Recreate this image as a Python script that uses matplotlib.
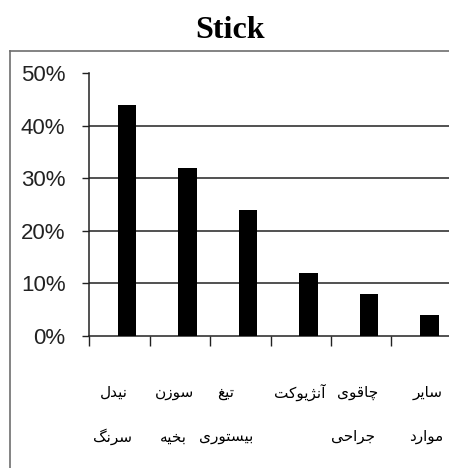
import numpy as np
import matplotlib
matplotlib.use("Agg")
import matplotlib.pyplot as plt
from matplotlib.lines import Line2D

# ── data ──
TITLE = "Stick"
LABELS = ["نیدل\nسرنگ", "سوزن\nبخیه", "تیغ\nبیستوری", "آنژیوکت", "چاقوی\nجراحی", "سایر\nموارد"]
VALUES = [44, 32, 24, 12, 8, 4]   # percent
YTICKS = [0, 10, 20, 30, 40, 50]

# ── minimal Persian shaping (matplotlib has no bidi / joining) ──
# letter: (isolated, final, initial, medial); two-form letters never join to the next one
FORMS = {
    "ا": (0xFE8D, 0xFE8E), "آ": (0xFE81, 0xFE82),
    "د": (0xFEA9, 0xFEAA), "ر": (0xFEAD, 0xFEAE), "ز": (0xFEAF, 0xFEB0),
    "ژ": (0xFB8A, 0xFB8B), "و": (0xFEED, 0xFEEE),
    "ب": (0xFE8F, 0xFE90, 0xFE91, 0xFE92), "ت": (0xFE95, 0xFE96, 0xFE97, 0xFE98),
    "ج": (0xFE9D, 0xFE9E, 0xFE9F, 0xFEA0), "ح": (0xFEA1, 0xFEA2, 0xFEA3, 0xFEA4),
    "خ": (0xFEA5, 0xFEA6, 0xFEA7, 0xFEA8), "س": (0xFEB1, 0xFEB2, 0xFEB3, 0xFEB4),
    "غ": (0xFECD, 0xFECE, 0xFECF, 0xFED0), "ق": (0xFED5, 0xFED6, 0xFED7, 0xFED8),
    "ل": (0xFEDD, 0xFEDE, 0xFEDF, 0xFEE0), "م": (0xFEE1, 0xFEE2, 0xFEE3, 0xFEE4),
    "ن": (0xFEE5, 0xFEE6, 0xFEE7, 0xFEE8), "ه": (0xFEE9, 0xFEEA, 0xFEEB, 0xFEEC),
    "ی": (0xFBFC, 0xFBFD, 0xFBFE, 0xFBFF), "ک": (0xFB8E, 0xFB8F, 0xFB90, 0xFB91),
    "گ": (0xFB92, 0xFB93, 0xFB94, 0xFB95), "چ": (0xFB7A, 0xFB7B, 0xFB7C, 0xFB7D),
}


def shape(s):
    out = []
    for i, ch in enumerate(s):
        f = FORMS.get(ch)
        if f is None:
            out.append(ch)
            continue
        prev = s[i - 1] if i > 0 else ""
        nxt = s[i + 1] if i < len(s) - 1 else ""
        jp = prev in FORMS and len(FORMS[prev]) == 4
        jn = len(f) == 4 and nxt in FORMS
        if jp and jn:
            k = 3
        elif jp:
            k = 1
        elif jn:
            k = 2
        else:
            k = 0
        out.append(chr(f[k]))
    return "".join(out[::-1])


W, H = 449, 468
fig = plt.figure(figsize=(W / 100, H / 100), dpi=100)

# outer box (chart area border, cropped on right / bottom)
fig.add_artist(Line2D([10 / W, 1.0], [1 - 51 / H] * 2, color="#6e6e6e", lw=1.2))
fig.add_artist(Line2D([10 / W] * 2, [1 - 51 / H, 0.0], color="#6e6e6e", lw=1.2))

fig.text(230 / W, 1 - 38 / H, TITLE, ha="center", va="baseline",
         family="Liberation Serif", weight="bold", fontsize=23)

ax = fig.add_axes([89 / W, 1 - 336 / H, (452 - 89) / W, (336 - 73) / H])
x = np.arange(len(VALUES))
ax.bar(x + 0.13, np.array(VALUES) / 100, width=0.31, color="black", zorder=3)

ax.set_xlim(-0.5, len(VALUES) - 0.5)
ax.set_ylim(0, 0.5)
ax.set_yticks(np.array(YTICKS) / 100)
ax.set_yticklabels([f"{v}%" for v in YTICKS], family="Liberation Sans",
                   fontsize=16, color="#222222")
ax.set_xticks(np.arange(len(VALUES)) - 0.5)
ax.set_xticklabels([])
ax.tick_params(axis="y", length=5, width=1, pad=12, color="#222222")
ax.tick_params(axis="x", length=7.5, width=1, color="#222222")
for v in YTICKS[1:-1]:
    ax.axhline(v / 100, color="#222222", lw=1.1, zorder=1)
for s in ["top", "right"]:
    ax.spines[s].set_visible(False)
for s in ["left", "bottom"]:
    ax.spines[s].set_color("#222222")
    ax.spines[s].set_linewidth(1.1)
ax.patch.set_alpha(0)

# category labels, two wrapped lines each (centres in pixels, as in the original)
line_x = [(114, 112), (175, 173), (226, 226), (300, None), (358, 353), (428, 426)]
line_y = [392, 437]
for lab, xs in zip(LABELS, line_x):
    for ln, xc, yy in zip(lab.split("\n"), xs, line_y):
        fig.text(xc / W, 1 - yy / H, shape(ln), ha="center", va="center",
                 family="DejaVu Sans", fontsize=11)

fig.savefig("out.png", dpi=100)
